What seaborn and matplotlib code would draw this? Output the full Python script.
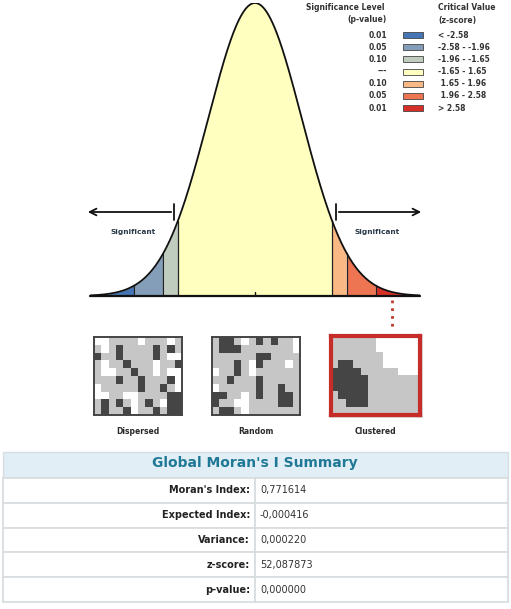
import numpy as np
import matplotlib
matplotlib.use("Agg")
import matplotlib.pyplot as plt
import seaborn as sns
from matplotlib.colors import ListedColormap
from matplotlib.patches import Rectangle

sns.set_theme(style="white")
plt.rcParams["font.family"] = ["DejaVu Sans"]

# ---- data ----
z_breaks = [-3.53, -2.58, -1.96, -1.65, 1.65, 1.96, 2.58, 3.53]
band_colors = ["#4575b5", "#849eba", "#c0ccbe", "#ffffbf", "#fab984", "#ed7551", "#d62f27"]
p_levels = ["0.01", "0.05", "0.10", "---", "0.10", "0.05", "0.01"]
z_ranges = ["< -2.58", "-2.58 - -1.96", "-1.96 - -1.65", "-1.65 - 1.65",
            " 1.65 - 1.96", " 1.96 - 2.58", "> 2.58"]

# 0 = white, 1 = light grey, 2 = dark grey
dispersed = [
    [0, 0, 1, 1, 1, 1, 0, 1, 1, 1, 0, 1],
    [1, 0, 1, 2, 1, 1, 1, 1, 2, 1, 2, 1],
    [2, 1, 1, 2, 1, 1, 1, 1, 2, 1, 0, 0],
    [1, 0, 1, 1, 2, 1, 1, 1, 0, 1, 1, 2],
    [1, 0, 0, 1, 1, 2, 1, 1, 0, 1, 0, 0],
    [1, 1, 1, 2, 1, 1, 2, 1, 1, 1, 2, 0],
    [0, 1, 1, 1, 1, 1, 2, 1, 1, 2, 1, 0],
    [0, 0, 1, 1, 0, 0, 1, 1, 1, 1, 2, 2],
    [1, 2, 1, 2, 1, 0, 1, 2, 1, 0, 2, 2],
    [1, 2, 1, 1, 2, 0, 1, 1, 2, 1, 2, 2],
]
random_map = [
    [1, 2, 2, 1, 0, 1, 2, 1, 2, 1, 1, 0],
    [1, 2, 2, 2, 1, 1, 1, 1, 1, 1, 1, 0],
    [1, 1, 1, 1, 1, 1, 2, 2, 1, 1, 1, 1],
    [1, 1, 1, 2, 1, 0, 2, 1, 1, 1, 0, 1],
    [0, 1, 1, 2, 1, 0, 1, 1, 1, 1, 1, 1],
    [1, 1, 2, 1, 1, 1, 2, 1, 1, 1, 1, 1],
    [0, 1, 1, 1, 1, 1, 2, 1, 1, 2, 1, 1],
    [2, 2, 1, 1, 0, 1, 2, 1, 1, 2, 2, 1],
    [2, 1, 1, 0, 0, 1, 1, 1, 1, 2, 2, 1],
    [1, 2, 2, 1, 0, 1, 1, 1, 1, 1, 1, 1],
]
clustered = [
    [1, 1, 1, 1, 1, 1, 0, 0, 0, 0, 0, 0],
    [1, 1, 1, 1, 1, 1, 0, 0, 0, 0, 0, 0],
    [1, 1, 1, 1, 1, 1, 1, 0, 0, 0, 0, 0],
    [1, 2, 2, 1, 1, 1, 1, 0, 0, 0, 0, 0],
    [2, 2, 2, 2, 1, 1, 1, 1, 1, 0, 0, 0],
    [2, 2, 2, 2, 2, 1, 1, 1, 1, 1, 1, 1],
    [2, 2, 2, 2, 2, 1, 1, 1, 1, 1, 1, 1],
    [1, 2, 2, 2, 2, 1, 1, 1, 1, 1, 1, 1],
    [1, 1, 2, 2, 2, 1, 1, 1, 1, 1, 1, 1],
    [1, 1, 1, 1, 1, 1, 1, 1, 1, 1, 1, 1],
]
map_names = ["Dispersed", "Random", "Clustered"]

summary_labels = ["Moran's Index:", "Expected Index:", "Variance:", "z-score:", "p-value:"]
summary_values = ["0,771614", "-0,000416", "0,000220", "52,087873", "0,000000"]

# ---- figure ----
W, H = 511, 609
fig = plt.figure(figsize=(W / 100, H / 100), dpi=100)


def box(x0, y0, x1, y1):
    return [x0 / W, 1 - y1 / H, (x1 - x0) / W, (y1 - y0) / H]


# overlay in pixel coordinates
ov = fig.add_axes([0, 0, 1, 1])
ov.set_xlim(0, W)
ov.set_ylim(H, 0)
ov.axis("off")

# normal curve
ax = fig.add_axes(box(90, 3, 420, 296))
z = np.linspace(z_breaks[0], z_breaks[-1], 600)
pdf = np.exp(-z ** 2 / 2) / np.sqrt(2 * np.pi)
for i, col in enumerate(band_colors):
    m = (z >= z_breaks[i]) & (z <= z_breaks[i + 1])
    ax.fill_between(z[m], 0, pdf[m], color=col, lw=0)
for b in z_breaks[1:-1]:
    ax.plot([b, b], [0, np.exp(-b ** 2 / 2) / np.sqrt(2 * np.pi)], color="#222222", lw=0.9)
sns.lineplot(x=z, y=pdf, ax=ax, color="#111111", lw=1.3)
ax.axhline(0, color="#111111", lw=1.6, clip_on=False)
ax.plot([0, 0], [0, 0.006], color="#111111", lw=1)
ax.set_xlim(z_breaks[0], z_breaks[-1])
ax.set_ylim(0, pdf.max())
ax.axis("off")

# arrows and labels on the curve
ov.annotate("", xy=(85, 212), xytext=(174, 212),
            arrowprops=dict(arrowstyle="->", lw=1.3, color="#111111", mutation_scale=12))
ov.plot([174, 174], [204, 220], color="#111111", lw=1.3)
ov.annotate("", xy=(424, 212), xytext=(336, 212),
            arrowprops=dict(arrowstyle="->", lw=1.3, color="#111111", mutation_scale=12))
ov.plot([336, 336], [204, 220], color="#111111", lw=1.3)
ov.text(133, 232, "Significant", ha="center", va="center", fontsize=5.3,
        fontweight="bold", color="#2b3a4a")
ov.text(377, 232, "Significant", ha="center", va="center", fontsize=5.3,
        fontweight="bold", color="#2b3a4a")
ov.text(257, 213, "(Random)", ha="center", va="center", fontsize=5.5,
        fontweight="bold", color="#3a3a3a")

# legend
ov.text(345, 7, "Significance Level", ha="center", va="center", fontsize=5.5,
        fontweight="bold", color="#333333")
ov.text(387, 20, "(p-value)", ha="right", va="center", fontsize=5.5,
        fontweight="bold", color="#333333")
ov.text(438, 7, "Critical Value", ha="left", va="center", fontsize=5.5,
        fontweight="bold", color="#333333")
ov.text(438, 20, "(z-score)", ha="left", va="center", fontsize=5.5,
        fontweight="bold", color="#333333")
for i, (p, zr, col) in enumerate(zip(p_levels, z_ranges, band_colors)):
    y = 35 + i * 12.2
    ov.text(387, y, p, ha="right", va="center", fontsize=5.5, fontweight="bold", color="#333333")
    ov.add_patch(Rectangle((403, y - 3), 20, 6, facecolor=col, edgecolor="#444444", lw=0.6))
    ov.text(438, y, zr, ha="left", va="center", fontsize=5.5, fontweight="bold", color="#333333")

# dotted link to clustered map
ov.plot([392, 392], [300, 331], color="#c0392b", lw=2, ls=(0, (1, 1.8)))

# maps
map_cmap = ListedColormap(["#ffffff", "#c6c6c6", "#454545"])
map_boxes = [(94, 337, 182, 415), (212, 337, 300, 415), (331, 336, 420, 415)]
for grid, name, bx in zip([dispersed, random_map, clustered], map_names, map_boxes):
    if name == "Clustered":
        ov.add_patch(Rectangle((bx[0] - 1, bx[1] - 1), bx[2] - bx[0] + 4, bx[3] - bx[1] + 4,
                               facecolor="#bbbbbb", edgecolor="none", alpha=0.5))
    m_ax = fig.add_axes(box(*bx))
    sns.heatmap(np.array(grid), cmap=map_cmap, vmin=0, vmax=2, cbar=False,
                linewidths=0, xticklabels=False, yticklabels=False, ax=m_ax)
    for s in m_ax.spines.values():
        s.set_visible(True)
        s.set_color("#c62d28" if name == "Clustered" else "#444444")
        s.set_linewidth(3 if name == "Clustered" else 1.4)
    ov.text((bx[0] + bx[2]) / 2, 432, name, ha="center", va="center", fontsize=5.5,
            fontweight="bold", color="#2a2a2a")

# summary table
ov.add_patch(Rectangle((3, 452), 505, 26, facecolor="#e2eef5", edgecolor="#d3dde3", lw=1))
ov.text(255, 463, "Global Moran's I Summary", ha="center", va="center", fontsize=10,
        fontweight="bold", color="#1f7896")
row_h = 24.8
for i, (lab, val) in enumerate(zip(summary_labels, summary_values)):
    y0 = 478 + i * row_h
    ov.add_patch(Rectangle((3, y0), 252, row_h, facecolor="white", edgecolor="#d8dde0", lw=1.3))
    ov.add_patch(Rectangle((255, y0), 253, row_h, facecolor="white", edgecolor="#d8dde0", lw=1.3))
    ov.text(250, y0 + row_h / 2, lab, ha="right", va="center", fontsize=7,
            fontweight="bold", color="#222222")
    ov.text(260, y0 + row_h / 2, val, ha="left", va="center", fontsize=7, color="#333333")

fig.savefig("out.png", dpi=100)
